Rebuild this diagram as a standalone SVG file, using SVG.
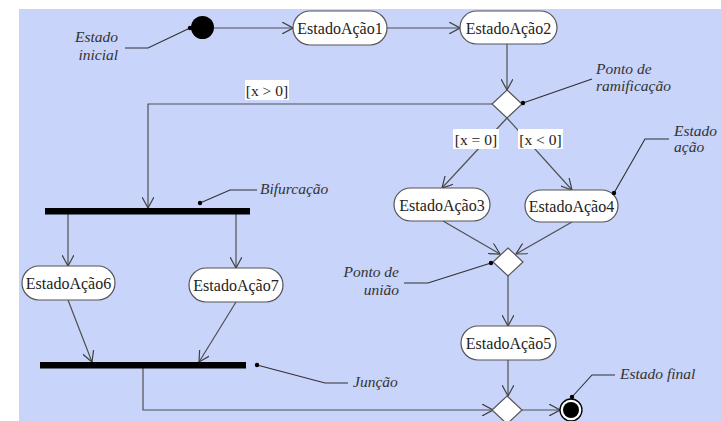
<svg xmlns="http://www.w3.org/2000/svg" width="721" height="421" viewBox="0 0 721 421">
<style>
.bg{fill:#c8d4fa}
text{font-family:"Liberation Serif","Times New Roman",Times,"DejaVu Serif",serif}
.node rect{fill:#ffffff;stroke:#555555;stroke-width:1.2}
.node text{font-size:16px;fill:#222222;text-anchor:middle}
.edge{fill:none;stroke:#505050;stroke-width:1.2}
.arr{marker-end:url(#arrow)}
.lead{fill:none;stroke:#303030;stroke-width:1.1}
.note{font-style:italic;font-size:15.5px;fill:#333333}
.guard rect{fill:#ffffff}
.guard text{font-size:15.5px;fill:#222222;text-anchor:middle}
.bar{fill:#000000}
.dia{fill:#ffffff;stroke:#555555;stroke-width:1.2}
</style>
<defs>
<marker id="arrow" markerWidth="12" markerHeight="12" refX="11" refY="6" orient="auto" markerUnits="userSpaceOnUse">
<path d="M0,0 L11,6 L0,12" fill="none" stroke="#404040" stroke-width="1.2"/>
</marker>
<marker id="dot" markerWidth="6" markerHeight="6" refX="3" refY="3" markerUnits="userSpaceOnUse">
<circle cx="3" cy="3" r="2.2" fill="#000000"/>
</marker>
</defs>
<rect class="bg" x="19" y="9" width="702" height="412"/>

<g id="connectors">
<line class="edge arr" x1="214" y1="28" x2="293" y2="28"/>
<line class="edge arr" x1="387" y1="28" x2="460" y2="28"/>
<line class="edge arr" x1="507" y1="44" x2="507" y2="90"/>
<polyline class="edge arr" points="492,104 148,104 148,208"/>
<line class="edge arr" x1="507" y1="118" x2="442" y2="188"/>
<line class="edge arr" x1="507" y1="118" x2="572" y2="190"/>
<line class="edge arr" x1="443" y1="221" x2="500" y2="254"/>
<line class="edge arr" x1="572" y1="222" x2="516" y2="254"/>
<line class="edge arr" x1="508" y1="276" x2="508" y2="326"/>
<line class="edge arr" x1="508" y1="360" x2="508" y2="396"/>
<line class="edge arr" x1="68" y1="214" x2="68" y2="266"/>
<line class="edge arr" x1="236" y1="214" x2="236" y2="268"/>
<line class="edge arr" x1="68" y1="300" x2="92" y2="362"/>
<line class="edge arr" x1="236" y1="302" x2="199" y2="362"/>
<polyline class="edge arr" points="143,368 143,410 493,410"/>
<line class="edge arr" x1="522" y1="410" x2="560" y2="410"/>
</g>

<g id="guards" class="guard">
<g id="guard-gt"><rect x="245" y="80" width="44" height="20"/><text x="267" y="96">[x &gt; 0]</text></g>
<g id="guard-eq"><rect x="453" y="129" width="46" height="20"/><text x="476" y="145">[x = 0]</text></g>
<g id="guard-lt"><rect x="518" y="129" width="45" height="20"/><text x="540.5" y="145">[x &lt; 0]</text></g>
</g>

<g id="initial"><circle cx="202.5" cy="27.5" r="11.5" fill="#000000"/></g>
<g id="a1" class="node"><rect x="293" y="11" width="94" height="34" rx="17"/><text x="340" y="34">EstadoAção1</text></g>
<g id="a2" class="node"><rect x="460" y="11" width="97" height="33" rx="16.5"/><text x="508.5" y="33.5">EstadoAção2</text></g>
<g id="branch"><polygon class="dia" points="507,90 522,104 507,118 492,104"/></g>
<g id="a3" class="node"><rect x="394" y="188" width="96" height="33" rx="16.5"/><text x="442" y="210.5">EstadoAção3</text></g>
<g id="a4" class="node"><rect x="525" y="190" width="93" height="32" rx="16"/><text x="571.5" y="212">EstadoAção4</text></g>
<g id="merge"><polygon class="dia" points="508,248 523,262 508,276 493,262"/></g>
<g id="a5" class="node"><rect x="461" y="326" width="95" height="34" rx="17"/><text x="508.5" y="349">EstadoAção5</text></g>
<g id="fork"><rect class="bar" x="45" y="208" width="205" height="6.5"/></g>
<g id="a6" class="node"><rect x="22" y="266" width="93" height="34" rx="17"/><text x="68.5" y="289">EstadoAção6</text></g>
<g id="a7" class="node"><rect x="189" y="268" width="94" height="34" rx="17"/><text x="236" y="291">EstadoAção7</text></g>
<g id="join"><rect class="bar" x="40" y="362" width="206" height="6.5"/></g>
<g id="final-merge"><polygon class="dia" points="507,396 522,410 507,424 492,410"/></g>
<g id="final"><circle cx="571" cy="410" r="11" fill="#ffffff" stroke="#000000" stroke-width="1.3"/><circle cx="571" cy="410" r="8" fill="#000000"/></g>

<g id="notes">
<g id="note-inicial"><polyline class="lead" points="125,48 148,48 190,28" marker-end="url(#dot)"/><text class="note" x="118" y="42" text-anchor="end">Estado</text><text class="note" x="118" y="60" text-anchor="end">inicial</text></g>
<g id="note-ramif"><line class="lead" x1="592" y1="79" x2="523" y2="103" marker-end="url(#dot)"/><text class="note" x="596" y="74">Ponto de</text><text class="note" x="596" y="91">ramificação</text></g>
<g id="note-acao"><polyline class="lead" points="669,139 645,139 614,193" marker-end="url(#dot)"/><text class="note" x="674" y="136">Estado</text><text class="note" x="674" y="152">ação</text></g>
<g id="note-bif"><polyline class="lead" points="257,190 230,190 200,203" marker-end="url(#dot)"/><text class="note" x="260" y="194">Bifurcação</text></g>
<g id="note-uniao"><polyline class="lead" points="404,283 428,283 491,263" marker-end="url(#dot)"/><text class="note" x="399" y="277" text-anchor="end">Ponto de</text><text class="note" x="399" y="295" text-anchor="end">união</text></g>
<g id="note-juncao"><polyline class="lead" points="348,383 325,383 257,365" marker-end="url(#dot)"/><text class="note" x="353" y="387">Junção</text></g>
<g id="note-final"><polyline class="lead" points="615,375 592,375 572,397" marker-end="url(#dot)"/><text class="note" x="620" y="379">Estado final</text></g>
</g>
</svg>
